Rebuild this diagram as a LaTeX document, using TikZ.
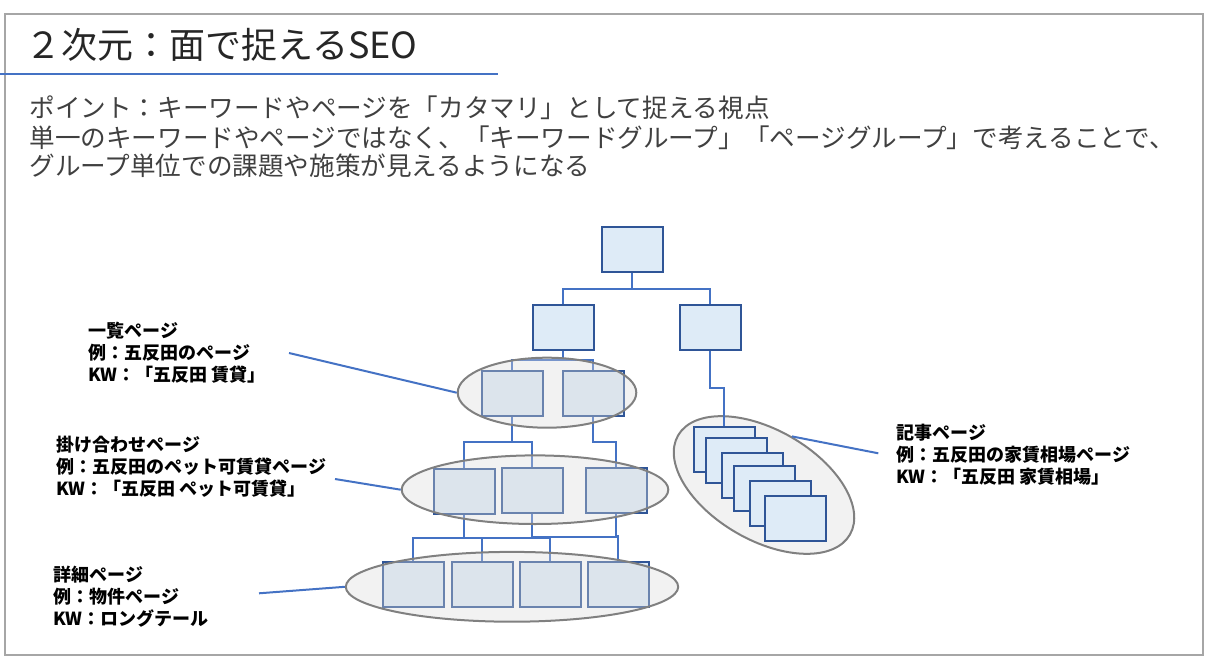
\documentclass[tikz,border=0pt]{standalone}
\usepackage{fontspec}
\setmainfont{Noto Sans CJK JP}
\usetikzlibrary{shapes.geometric}
\definecolor{boxfill}{HTML}{DEEBF7}
\definecolor{boxline}{HTML}{2F5597}
\definecolor{linkblue}{HTML}{4472C4}
\definecolor{groupline}{HTML}{808080}
\definecolor{groupfill}{HTML}{D9D9D9}
\definecolor{framegray}{HTML}{A6A6A6}
\definecolor{titlegray}{HTML}{262626}
\definecolor{bodygray}{HTML}{404040}
\pgfdeclarelayer{back}
\pgfdeclarelayer{links}
\pgfsetlayers{back,links,main}

\begin{document}
\begin{tikzpicture}[x=0.5pt,y=-0.5pt]
  \tikzset{
    pagebox/.style={draw=boxline, fill=boxfill, line width=1pt, inner sep=0pt,
      minimum width=30.5pt, minimum height=22.5pt},
    link/.style={draw=linkblue, line width=1pt},
    callout/.style={draw=linkblue, line width=1pt},
    group/.style={ellipse, draw=groupline, line width=1pt, fill=groupfill,
      fill opacity=0.35, inner sep=0pt},
    note/.style={inner sep=0pt, align=left, anchor=west,
      font=\bfseries\fontsize{9}{11}\selectfont},
    bodyline/.style={inner sep=0pt, anchor=base west, text=bodygray,
      font=\fontsize{12.8}{14.5}\selectfont}
  }
  \useasboundingbox (0,0) rectangle (1214,668);

  % Frame and heading
  \draw[framegray, line width=0.8pt] (5,14) rectangle (1203,655);
  \node[inner sep=0pt, anchor=base west, text=titlegray, font=\fontsize{18}{20}\selectfont]
    (title) at (25,58.5) {２次元：面で捉えるSEO};
  \draw[linkblue, line width=1pt] (0,74) -- (498,74);

  % Explanation
  \node[bodyline] (point1) at (29,117.6) {ポイント：キーワードやページを「カタマリ」として捉える視点};
  \node[bodyline] (point2) at (29,147.6) {単一のキーワードやページではなく、「キーワードグループ」「ページグループ」で考えることで、};
  \node[bodyline] (point3) at (29,175.6) {グループ単位での課題や施策が見えるようになる};

  % Page tree
  \node[pagebox] (top) at (632,249.7) {};
  \node[pagebox] (l2a) at (563,327.8) {};
  \node[pagebox] (l2b) at (710,327.8) {};
  \node[pagebox] (l3a) at (512,393) {};
  \node[pagebox] (l3b) at (593,393) {};
  \node[pagebox] (l4a) at (464,491.7) {};
  \node[pagebox] (l4b) at (532,490) {};
  \node[pagebox] (l4c) at (616,490.9) {};
  \foreach \x [count=\i] in {413,482,550,618}
    \node[pagebox] (l5\i) at (\x,584.9) {};

  % Article pages
  \begin{pgfonlayer}{back}
    \node[group, minimum width=99.2pt, minimum height=55.1pt, rotate=-30] (g4) at (764,485) {};
  \end{pgfonlayer}
  \foreach \x/\y [count=\i] in {724/449, 736/460, 752/475, 764/488, 780/503, 795/518}
    \node[pagebox] (a\i) at (\x,\y) {};

  % Links
  \begin{pgfonlayer}{links}
    \draw[link] (top.south) -- ++(0,16) -| (l2a.north);
    \draw[link] (top.south) -- ++(0,16) -| (l2b.north);
    \draw[link] (l2a.south) -- ++(0,9) -| (l3a.north);
    \draw[link] (l2a.south) -- ++(0,9) -| (l3b.north);
    \draw[link] (l2b.south) -- ++(0,37) -| (a1.north);
    \draw[link] (l3a.south) -- ++(0,25) -| (l4a.north);
    \draw[link] (l3a.south) -- ++(0,25) -| (l4b.north);
    \draw[link] (l3b.south) -- ++(0,25) -| (l4c.north);
    \draw[link] (l4a.south) -- ++(0,22.5) -| (l51.north);
    \draw[link] (l4a.south) -- ++(0,22.5) -| (l52.north);
    \draw[link] (l4a.south) -- ++(0,22.5) -| (l53.north);
    \draw[link] (l4b.south) -- ++(0,23) -| (l54.north);
    \draw[link] (l4c.south) -- ++(0,22) -| (l54.north);
  \end{pgfonlayer}

  % Groups
  \node[group, minimum width=89.3pt, minimum height=35pt] (g1) at (547,392.7) {};
  \node[group, minimum width=133.3pt, minimum height=34.3pt] (g2) at (535,489.7) {};
  \node[group, minimum width=166.2pt, minimum height=34.9pt] (g3) at (512,586.8) {};

  % Callouts and labels
  \coordinate (c1) at (289,353);
  \coordinate (c2) at (335,479);
  \coordinate (c3) at (259,593.3);
  \coordinate (c4) at (878.3,453.3);
  \draw[callout] (c1) -- (g1.west);
  \draw[callout] (c2) -- (g2.west);
  \draw[callout] (c3) -- (g3.west);
  \draw[callout] (g4.north) -- (c4);

  \node[note] (n1) at (88,352.5) {一覧ページ\\例：五反田のページ\\KW：「五反田 賃貸」};
  \node[note] (n2) at (56,466.5) {掛け合わせページ\\例：五反田のペット可賃貸ページ\\KW：「五反田 ペット可賃貸」};
  \node[note] (n3) at (53,596.5) {詳細ページ\\例：物件ページ\\KW：ロングテール};
  \node[note] (n4) at (896,454.5) {記事ページ\\例：五反田の家賃相場ページ\\KW：「五反田 家賃相場」};
\end{tikzpicture}
\end{document}
